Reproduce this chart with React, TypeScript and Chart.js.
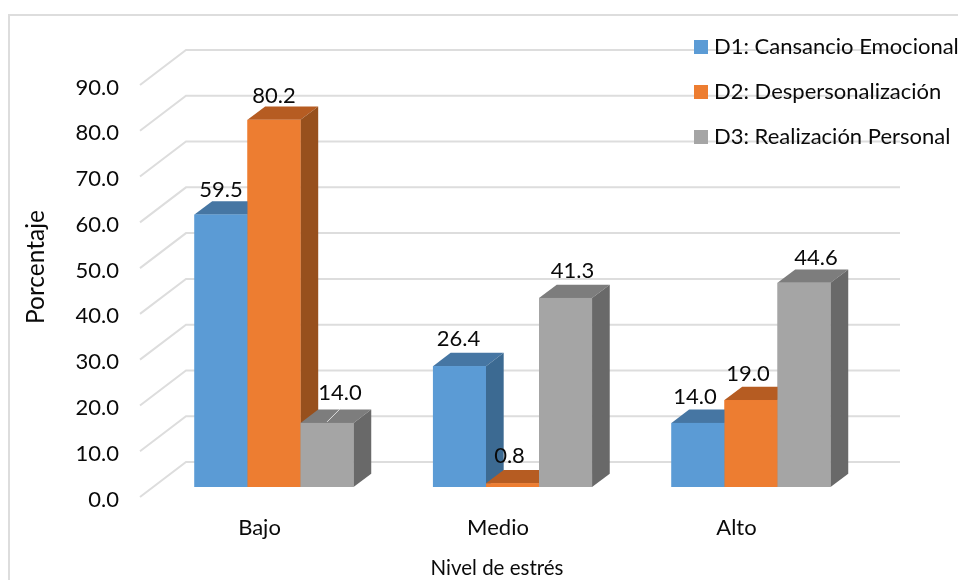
import React, { useEffect, useRef } from "react";
import { Chart, registerables } from "chart.js";

Chart.register(...registerables);

const categories = ["Bajo", "Medio", "Alto"];
const seriesNames = ["D1: Cansancio Emocional", "D2: Despersonalización", "D3: Realización Personal"];
const d1Values = [59.5, 26.4, 14.0];
const d2Values = [80.2, 0.8, 19.0];
const d3Values = [14.0, 41.3, 44.6];
const gridValues = [0, 10, 20, 30, 40, 50, 60, 70, 80, 90];

const FONT = "Lato, 'Open Sans', sans-serif";
const TEXT_SIZE = 22;
const front = ["#5B9BD5", "#ED7D31", "#A5A5A5"];
const topFace = ["#4676A3", "#B65C22", "#7D7D7D"];
const sideFace = ["#3C6A92", "#97501D", "#696969"];
const GRID = "#DDDDDD";
const INK = "#0A0A0A";

// Extrusion of each column and placement of the walls around the front plane.
const BAR_DX = 17.7;
const BAR_DY = -13.3;
const FLOOR_FRONT = { dx: -14.75, dy: 10 };
const FLOOR_BACK = { dx: 31.25, dy: -25 };
const WALL_RIGHT_EXTRA = 29.75;

// Per-label shift from the centre of the column: [series][category].
const labelShift = [
  [[0, -25], [-1, -27], [-3, -26]],
  [[0, -24], [-3, -27], [-3, -26]],
  [[13, -30], [7, -27], [12, -25]],
];

const shiftScaleTitle = (scale: any, dx: number, dy: number) => {
  const base = scale.drawTitle;
  scale.drawTitle = function () {
    this.ctx.save();
    this.ctx.translate(dx, dy);
    base.call(this);
    this.ctx.restore();
  };
};

const columns3d = {
  id: "columns3d",
  afterLayout(chart: any) {
    if (chart.$titlesShifted) return;
    chart.$titlesShifted = true;
    shiftScaleTitle(chart.scales.x, -15.5, 1);
    shiftScaleTitle(chart.scales.y, 0, -14);
  },
  beforeDraw(chart: any) {
    const { ctx, width, height } = chart;
    ctx.save();
    ctx.strokeStyle = GRID;
    ctx.lineWidth = 2;
    ctx.beginPath();
    ctx.moveTo(9, height);
    ctx.lineTo(9, 15);
    ctx.lineTo(width, 15);
    ctx.stroke();
    ctx.restore();
  },
  beforeDatasetsDraw(chart: any) {
    const { ctx, chartArea, scales } = chart;
    ctx.save();
    ctx.strokeStyle = GRID;
    ctx.lineWidth = 2;
    for (const v of gridValues) {
      const y = scales.y.getPixelForValue(v);
      ctx.beginPath();
      ctx.moveTo(chartArea.left + FLOOR_FRONT.dx, y + FLOOR_FRONT.dy);
      ctx.lineTo(chartArea.left + FLOOR_BACK.dx, y + FLOOR_BACK.dy);
      ctx.lineTo(chartArea.right + WALL_RIGHT_EXTRA, y + FLOOR_BACK.dy);
      ctx.stroke();
    }
    ctx.restore();
  },
  afterDatasetsDraw(chart: any) {
    const { ctx } = chart;
    ctx.save();
    // Columns are painted left to right so each front face hides its neighbour's side.
    categories.forEach((_, c) => {
      chart.data.datasets.forEach((_ds: any, s: number) => {
        const bar = chart.getDatasetMeta(s).data[c];
        const l = bar.x - bar.width / 2;
        const r = bar.x + bar.width / 2;
        const t = bar.y;
        const b = bar.base;
        ctx.fillStyle = topFace[s];
        ctx.beginPath();
        ctx.moveTo(l, t);
        ctx.lineTo(l + BAR_DX, t + BAR_DY);
        ctx.lineTo(r + BAR_DX, t + BAR_DY);
        ctx.lineTo(r, t);
        ctx.closePath();
        ctx.fill();
        ctx.fillStyle = sideFace[s];
        ctx.beginPath();
        ctx.moveTo(r, t);
        ctx.lineTo(r + BAR_DX, t + BAR_DY);
        ctx.lineTo(r + BAR_DX, b + BAR_DY);
        ctx.lineTo(r, b);
        ctx.closePath();
        ctx.fill();
        ctx.fillStyle = front[s];
        ctx.fillRect(l, t, r - l, b - t);
      });
    });

    // Leader line of the low grey column in the first group.
    const lowBar = chart.getDatasetMeta(2).data[0];
    ctx.strokeStyle = GRID;
    ctx.lineWidth = 1;
    ctx.beginPath();
    ctx.moveTo(lowBar.x, lowBar.y - 1);
    ctx.lineTo(lowBar.x + 13, lowBar.y - 14);
    ctx.stroke();

    ctx.fillStyle = INK;
    ctx.font = `${TEXT_SIZE}px ${FONT}`;
    ctx.textAlign = "center";
    ctx.textBaseline = "middle";
    chart.data.datasets.forEach((ds: any, s: number) => {
      ds.data.forEach((v: number, c: number) => {
        const bar = chart.getDatasetMeta(s).data[c];
        const [dx, dy] = labelShift[s][c];
        ctx.fillText(v.toFixed(1), bar.x + dx, bar.y + dy);
      });
    });

    // Legend stacked in the top right corner, over the wall grid lines.
    ctx.textAlign = "left";
    chart.data.datasets.forEach((ds: any, s: number) => {
      const y = 47 + s * 45;
      ctx.fillStyle = ds.backgroundColor;
      ctx.fillRect(694, y - 7, 14, 14);
      ctx.fillStyle = INK;
      ctx.fillText(ds.label, 714, y);
    });
    ctx.restore();
  },
};

export default function App() {
  const ref = useRef<HTMLCanvasElement>(null);
  useEffect(() => {
    const seriesValues = [d1Values, d2Values, d3Values];
    const font = { family: FONT, size: TEXT_SIZE };
    const chart = new Chart(ref.current!, {
      type: "bar",
      data: {
        labels: categories,
        datasets: seriesNames.map((label, i) => ({
          label,
          data: seriesValues[i],
          backgroundColor: front[i],
          barPercentage: 1,
          categoryPercentage: 0.667,
        })),
      },
      options: {
        responsive: false,
        animation: false,
        layout: { padding: { left: 21, top: 75, right: 87.75, bottom: 0 } },
        plugins: { legend: { display: false }, tooltip: { enabled: false } },
        scales: {
          x: {
            afterFit: (s: any) => { s.height = 93; },
            grid: { display: false, drawTicks: false },
            border: { display: false },
            ticks: { font, color: INK, padding: 28, labelOffset: -14.5, maxRotation: 0 },
            title: { display: true, text: "Nivel de estrés", font: { family: FONT, size: 20.5 }, color: INK, padding: 0 },
          },
          y: {
            min: 0,
            max: 90,
            afterFit: (s: any) => { s.width = 133.75; },
            grid: { display: false, drawTicks: false },
            border: { display: false },
            ticks: {
              stepSize: 10,
              font,
              color: INK,
              padding: 35.75,
              labelOffset: 12.5,
              callback: (v: any) => Number(v).toFixed(1),
            },
            title: { display: true, text: "Porcentaje", font: { family: FONT, size: 24.5 }, color: INK, padding: 0 },
          },
        },
      },
      plugins: [columns3d],
    } as any);
    return () => chart.destroy();
  }, []);
  return (
    <div style={{ position: "fixed", left: 0, top: 0, width: 958, height: 580, background: "#fff" }}>
      <canvas ref={ref} width={958} height={580} style={{ display: "block" }} />
    </div>
  );
}
